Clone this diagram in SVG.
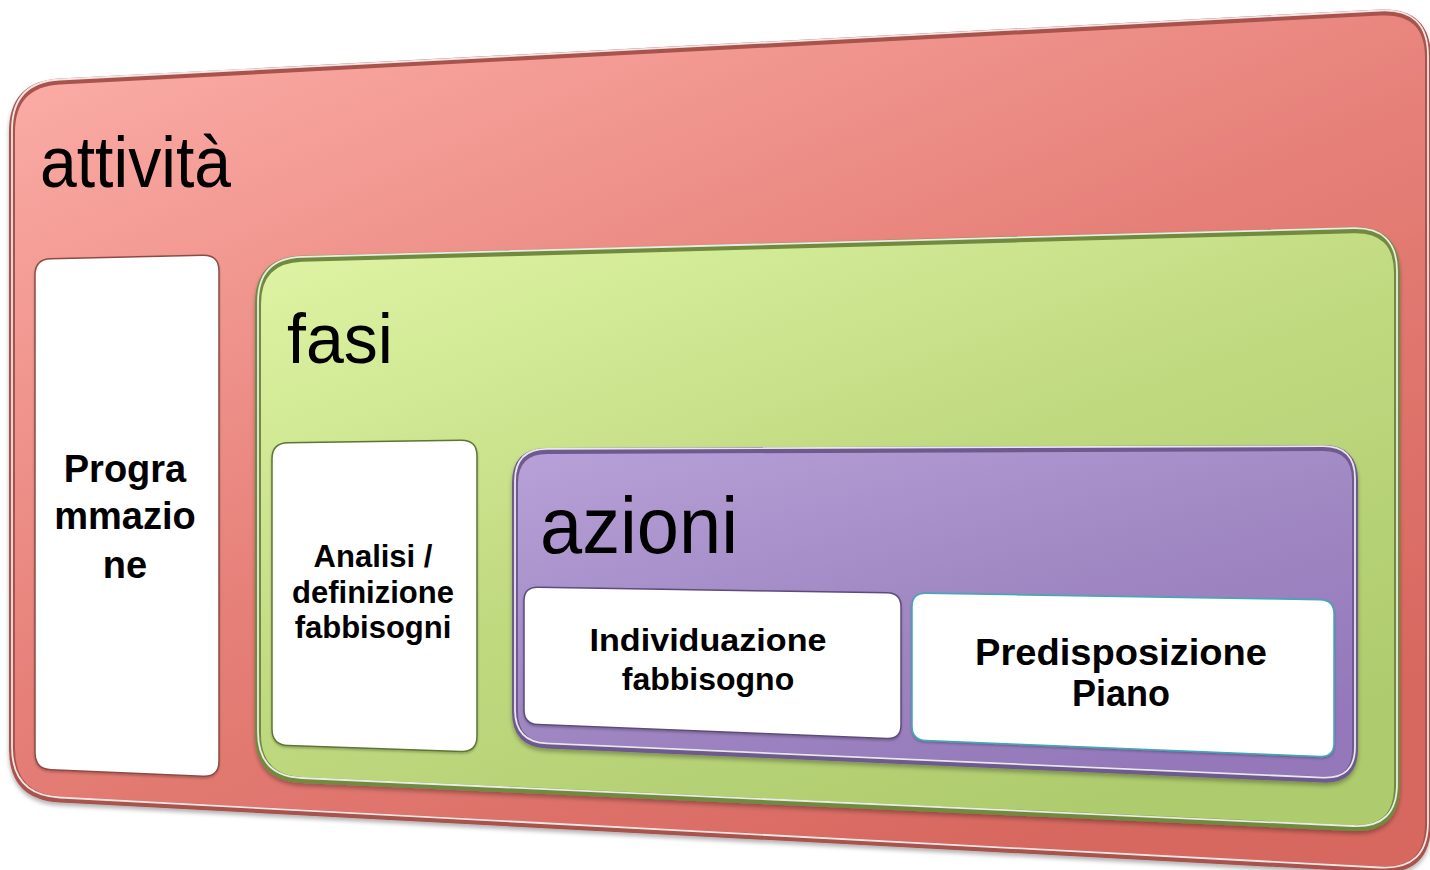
<svg xmlns="http://www.w3.org/2000/svg" width="1430" height="870" viewBox="0 0 1430 870">
<defs>
<linearGradient id="gRed" x1="0" y1="0" x2="0.7" y2="1">
<stop offset="0" stop-color="#FDB0AA"/><stop offset="0.55" stop-color="#E57F77"/><stop offset="1" stop-color="#D7675F"/>
</linearGradient>
<linearGradient id="gGreen" x1="0" y1="0" x2="0.7" y2="1">
<stop offset="0" stop-color="#E0F5A6"/><stop offset="0.55" stop-color="#BFD97F"/><stop offset="1" stop-color="#AECB6D"/>
</linearGradient>
<linearGradient id="gPurple" x1="0" y1="0" x2="0.7" y2="1">
<stop offset="0" stop-color="#B8A0D8"/><stop offset="0.55" stop-color="#A088C3"/><stop offset="1" stop-color="#9478BA"/>
</linearGradient>
<filter id="shadow" x="-5%" y="-5%" width="110%" height="115%">
<feDropShadow dx="0" dy="3" stdDeviation="2" flood-color="#000" flood-opacity="0.3"/>
</filter>
<filter id="soft" x="-5%" y="-5%" width="110%" height="110%">
<feDropShadow dx="0" dy="1.5" stdDeviation="1.2" flood-color="#000" flood-opacity="0.25"/>
</filter>
</defs>
<style>
.hl{fill:none;stroke:#fff;stroke-width:1.8;stroke-opacity:0.85}
.title{font-family:"Liberation Sans",Arial,sans-serif;fill:#000}
.lbl{font-family:"Liberation Sans",Arial,sans-serif;font-weight:bold;fill:#000;text-anchor:middle}
.box{fill:#fff;stroke-width:1.5}
</style>
<g id="attivita">
<path filter="url(#shadow)" fill="url(#gRed)" stroke="#A9534E" stroke-width="6" d="M59.9,81.5 L1380.1,12.5 Q1428,10 1428,58 L1428,824 Q1428,872 1380.1,869.5 L59.9,799.5 Q12,797 12,749 L12,132 Q12,84 59.9,81.5 Z"/>
<path class="hl" transform="translate(0,-2)" d="M59.9,81.5 L1380.1,12.5 Q1428,10 1428,58 L1428,824 Q1428,872 1380.1,869.5 L59.9,799.5 Q12,797 12,749 L12,132 Q12,84 59.9,81.5 Z"/>
<text class="title" x="40" y="187" font-size="72" textLength="191" lengthAdjust="spacingAndGlyphs">attività</text>
</g>
<g id="programmazione">
<path class="box" filter="url(#soft)" stroke="#8E4A46" d="M51,258.65 L203,255.35 Q219,255 219,271 L219,761 Q219,777 203,776.3 L51,769.7 Q35,769 35,753 L35,275 Q35,259 51,258.65 Z"/>
<text class="lbl" font-size="38"><tspan x="125" y="482">Progra</tspan><tspan x="125" y="529">mmazio</tspan><tspan x="125" y="578">ne</tspan></text>
</g>
<g id="fasi">
<path filter="url(#shadow)" fill="url(#gGreen)" stroke="#6F8B3F" stroke-width="6" d="M302,258.8 L1353,230.2 Q1397,229 1397,273 L1397,786 Q1397,830 1353,828 L302,780 Q258,778 258,734 L258,304 Q258,260 302,258.8 Z"/>
<path class="hl" transform="translate(0,-2)" d="M302,258.8 L1353,230.2 Q1397,229 1397,273 L1397,786 Q1397,830 1353,828 L302,780 Q258,778 258,734 L258,304 Q258,260 302,258.8 Z"/>
<text class="title" x="287" y="363" font-size="70" textLength="106" lengthAdjust="spacingAndGlyphs">fasi</text>
</g>
<g id="analisi">
<path class="box" filter="url(#soft)" stroke="#5E7534" d="M288,442.77 L461,440.23 Q477,440 477,456 L477,736 Q477,752 461,751.45 L288,745.55 Q272,745 272,729 L272,459 Q272,443 288,442.77 Z"/>
<text class="lbl" font-size="31"><tspan x="373" y="567">Analisi /</tspan><tspan x="373" y="603">definizione</tspan><tspan x="373" y="638">fabbisogni</tspan></text>
</g>
<g id="azioni">
<path filter="url(#shadow)" fill="url(#gPurple)" stroke="#6E5A8E" stroke-width="6" d="M547,450.9 L1323,448.1 Q1355,448 1355,480 L1355,749 Q1355,781 1323,779.6 L547,745.4 Q515,744 515,712 L515,483 Q515,451 547,450.9 Z"/>
<path class="hl" transform="translate(0,-2)" d="M547,450.9 L1323,448.1 Q1355,448 1355,480 L1355,749 Q1355,781 1323,779.6 L547,745.4 Q515,744 515,712 L515,483 Q515,451 547,450.9 Z"/>
<text class="title" x="540" y="553" font-size="80" textLength="198" lengthAdjust="spacingAndGlyphs">azioni</text>
</g>
<g id="individuazione">
<path class="box" filter="url(#soft)" stroke="#5E4C7A" d="M538,587.22 L887,592.78 Q901,593 901,607 L901,725 Q901,739 887,738.44 L538,724.56 Q524,724 524,710 L524,601 Q524,587 538,587.22 Z"/>
<text class="lbl" font-size="32"><tspan x="708" y="651" textLength="237" lengthAdjust="spacingAndGlyphs">Individuazione</tspan><tspan x="708" y="690">fabbisogno</tspan></text>
</g>
<g id="predisposizione">
<path class="box" filter="url(#soft)" stroke="#3FA9B8" d="M926,593.23 L1320,599.77 Q1334,600 1334,614 L1334,743 Q1334,757 1320,756.44 L926,740.56 Q912,740 912,726 L912,607 Q912,593 926,593.23 Z"/>
<text class="lbl" font-size="36"><tspan x="1121" y="665" textLength="292" lengthAdjust="spacingAndGlyphs">Predisposizione</tspan><tspan x="1121" y="706">Piano</tspan></text>
</g>
<g id="connectors"/>
</svg>
